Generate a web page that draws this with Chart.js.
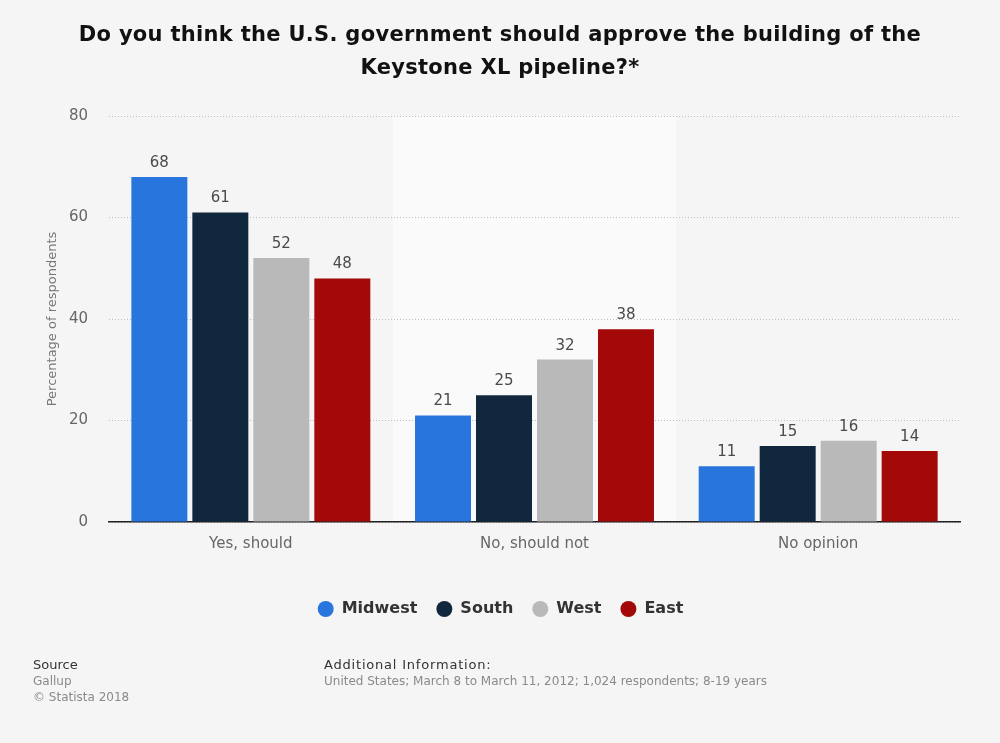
<!DOCTYPE html>
<html>
<head>
<meta charset="utf-8">
<script src="https://cdn.jsdelivr.net/npm/chart.js@4/dist/chart.umd.min.js"></script>
<style>
  html, body { margin: 0; padding: 0; background: #f5f5f5; }
  #wrap { position: relative; width: 1000px; height: 743px; overflow: hidden; font-family: "DejaVu Sans", sans-serif; }
  #chart { position: absolute; left: 0; top: 0; }
  .t { position: absolute; white-space: nowrap; }
  #title { left: 0; width: 1000px; top: 18px; text-align: center; font-size: 21px; line-height: 33px; font-weight: bold; color: #111; letter-spacing: 0.3px; }
  .small { font-size: 12px; color: #8a8a8a; }
  .head { font-size: 13px; color: #333; }
</style>
</head>
<body>
<div id="wrap">
  <canvas id="chart" width="1000" height="743"></canvas>
  <div class="t" id="title">Do you think the U.S. government should approve the building of the<br>Keystone XL pipeline?*</div>
  <div class="t head" style="left:33px;top:657px">Source</div>
  <div class="t small" style="left:33px;top:674px">Gallup</div>
  <div class="t small" style="left:33px;top:690px">© Statista 2018</div>
  <div class="t head" style="left:324px;top:657px;letter-spacing:0.8px">Additional Information:</div>
  <div class="t small" style="left:324px;top:674px">United States; March 8 to March 11, 2012; 1,024 respondents; 8-19 years</div>
</div>
<script>
const categories = ['Yes, should', 'No, should not', 'No opinion'];
const midwest = [68, 21, 11];
const south = [61, 25, 15];
const west = [52, 32, 16];
const east = [48, 38, 14];

// alternate shaded band behind the middle category
const bandPlugin = {
  id: 'band',
  beforeDraw(chart) {
    const { ctx, chartArea, scales } = chart;
    const w = chartArea.width / categories.length;
    const left = scales.x.getPixelForValue(1) - w / 2;
    ctx.save();
    ctx.fillStyle = '#fafafa';
    ctx.fillRect(left, chartArea.top, w, chartArea.height);
    ctx.restore();
  }
};

// value above each bar
const valueLabels = {
  id: 'valueLabels',
  afterDatasetsDraw(chart) {
    const { ctx } = chart;
    ctx.save();
    ctx.font = '15px "DejaVu Sans"';
    ctx.fillStyle = '#4a4a4a';
    ctx.textAlign = 'center';
    ctx.textBaseline = 'alphabetic';
    chart.data.datasets.forEach((ds, i) => {
      chart.getDatasetMeta(i).data.forEach((bar, j) => {
        ctx.fillText(ds.data[j], bar.x, bar.y - 10);
      });
    });
    ctx.restore();
  }
};

// the right padding pulls the legend off centre, push it back to the page middle
const legendShift = {
  id: 'legendShift',
  afterLayout(chart) {
    chart.legend.left += 20.5;
    chart.legend.right += 20.5;
  }
};

function series(label, data, color) {
  return { label, data, backgroundColor: color, borderWidth: 0, pointStyle: 'circle' };
}

new Chart(document.getElementById('chart').getContext('2d'), {
  type: 'bar',
  data: {
    labels: categories,
    datasets: [
      series('Midwest', midwest, '#2876dd'),
      series('South', south, '#10273d'),
      series('West', west, '#b9b9b9'),
      series('East', east, '#a30909')
    ]
  },
  plugins: [bandPlugin, valueLabels, legendShift],
  options: {
    responsive: false,
    animation: false,
    devicePixelRatio: 1,
    layout: { padding: { top: 116, left: 0, right: 40, bottom: 116 } },
    datasets: { bar: { categoryPercentage: 0.86, barPercentage: 0.918 } },
    scales: {
      x: {
        afterFit(scale) { scale.height = 60; },
        grid: { display: false },
        border: { color: '#222', width: 1.5 },
        ticks: { color: '#666', font: { size: 15, family: '"DejaVu Sans"' }, padding: 5 }
      },
      y: {
        min: 0,
        max: 80,
        afterFit(scale) { scale.width = 109; },
        ticks: { stepSize: 20, color: '#666', font: { size: 15, family: '"DejaVu Sans"' }, padding: 21 },
        border: { display: false, dash: [1, 2] },
        grid: { color: '#bdbdbd', drawTicks: false, lineWidth: 1 },
        title: { display: true, text: 'Percentage of respondents', color: '#777', font: { size: 13, family: '"DejaVu Sans"' }, padding: { top: 45, bottom: 0 } }
      }
    },
    plugins: {
      title: { display: false },
      tooltip: { enabled: false },
      legend: {
        position: 'bottom',
        labels: {
          usePointStyle: true,
          boxWidth: 16,
          boxHeight: 11.3,
          padding: 19,
          color: '#333',
          font: { size: 16, weight: 'bold', family: '"DejaVu Sans"' }
        }
      }
    }
  }
});
</script>
</body>
</html>
